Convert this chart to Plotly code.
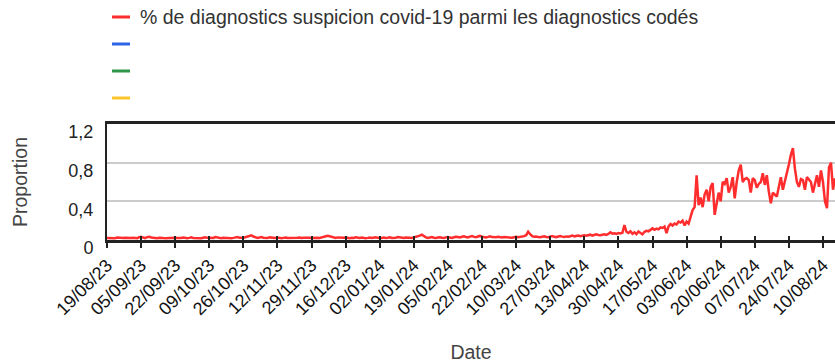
import pandas as pd
import plotly.graph_objects as go

# Daily share (%) of suspected covid-19 diagnoses among coded diagnoses
start_date = "2023-08-19"
end_date = "2024-08-16"
proportion = [
    0.020, 0.018, 0.022, 0.020, 0.019, 0.025, 0.021, 0.018, 0.020, 0.023,
    0.020, 0.017, 0.021, 0.024, 0.020, 0.019, 0.028, 0.032, 0.025, 0.020,
    0.030, 0.034, 0.026, 0.022, 0.020, 0.018, 0.023, 0.025, 0.020, 0.019,
    0.021, 0.018, 0.020, 0.024, 0.022, 0.020, 0.019, 0.021, 0.026, 0.020,
    0.018, 0.022, 0.027, 0.021, 0.019, 0.023, 0.020, 0.018, 0.024, 0.028,
    0.022, 0.020, 0.019, 0.021, 0.030, 0.025, 0.020, 0.018, 0.022, 0.020,
    0.024, 0.021, 0.019, 0.022, 0.026, 0.030, 0.024, 0.020, 0.023, 0.028,
    0.033, 0.040, 0.048, 0.036, 0.027, 0.022, 0.025, 0.030, 0.024, 0.021,
    0.020, 0.027, 0.023, 0.019, 0.021, 0.026, 0.020, 0.018, 0.022, 0.025,
    0.020, 0.019, 0.024, 0.021, 0.018, 0.023, 0.026, 0.020, 0.022, 0.025,
    0.028, 0.024, 0.020, 0.022, 0.027, 0.023, 0.021, 0.026, 0.031, 0.036,
    0.043, 0.038, 0.030, 0.025, 0.022, 0.027, 0.024, 0.020, 0.023, 0.026,
    0.021, 0.019, 0.024, 0.022, 0.028, 0.023, 0.020, 0.025, 0.021, 0.019,
    0.022, 0.026, 0.020, 0.024, 0.028, 0.022, 0.019, 0.021, 0.025, 0.020,
    0.023, 0.027, 0.021, 0.019, 0.024, 0.030, 0.026, 0.022, 0.020, 0.025,
    0.028, 0.024, 0.021, 0.026, 0.032, 0.040, 0.045, 0.055, 0.038, 0.027,
    0.022, 0.025, 0.030, 0.024, 0.021, 0.026, 0.029, 0.023, 0.021, 0.027,
    0.031, 0.025, 0.022, 0.028, 0.034, 0.030, 0.026, 0.033, 0.038, 0.030,
    0.026, 0.035, 0.040, 0.032, 0.028, 0.036, 0.042, 0.034, 0.030, 0.027,
    0.032, 0.038, 0.030, 0.026, 0.029, 0.033, 0.027, 0.025, 0.030, 0.028,
    0.031, 0.027, 0.024, 0.029, 0.033, 0.028, 0.030, 0.035, 0.040, 0.050,
    0.085, 0.060, 0.040, 0.033, 0.036, 0.030, 0.028, 0.034, 0.038, 0.031,
    0.029, 0.035, 0.040, 0.033, 0.030, 0.036, 0.042, 0.035, 0.031, 0.037,
    0.034, 0.039, 0.045, 0.038, 0.041, 0.047, 0.040, 0.043, 0.050, 0.044,
    0.048, 0.055, 0.046, 0.050, 0.058, 0.052, 0.049, 0.055, 0.060, 0.053,
    0.062, 0.080, 0.066, 0.070, 0.064, 0.072, 0.068, 0.075, 0.155, 0.085,
    0.072, 0.090, 0.065, 0.080, 0.060, 0.088, 0.070, 0.058, 0.085, 0.095,
    0.090, 0.110, 0.120, 0.105, 0.118, 0.110, 0.130, 0.125, 0.140, 0.070,
    0.140, 0.165, 0.150, 0.170, 0.160, 0.190,
    0.180, 0.200, 0.150, 0.190, 0.170, 0.240, 0.310, 0.340, 0.670, 0.360,
    0.440, 0.340, 0.470, 0.520, 0.400, 0.550, 0.590, 0.260, 0.400, 0.490,
    0.400, 0.600, 0.580, 0.640, 0.490, 0.550, 0.650, 0.430, 0.600, 0.720,
    0.780, 0.600, 0.630, 0.640, 0.620, 0.490, 0.640, 0.620, 0.540, 0.580,
    0.600, 0.690, 0.570, 0.670, 0.500, 0.380, 0.490, 0.470, 0.450, 0.550,
    0.650, 0.520, 0.600, 0.670, 0.780, 0.880, 0.950, 0.740, 0.600, 0.550,
    0.630, 0.620, 0.520, 0.650, 0.630, 0.600, 0.490, 0.600, 0.670, 0.550,
    0.720, 0.600, 0.400, 0.330, 0.750, 0.800, 0.520, 0.640,
]
dates = pd.date_range(start_date, periods=len(proportion), freq="D")

# Axis ticks
x_tick_dates = [
    "2023-08-19", "2023-09-05", "2023-09-22", "2023-10-09", "2023-10-26",
    "2023-11-12", "2023-11-29", "2023-12-16", "2024-01-02", "2024-01-19",
    "2024-02-05", "2024-02-22", "2024-03-10", "2024-03-27", "2024-04-13",
    "2024-04-30", "2024-05-17", "2024-06-03", "2024-06-20", "2024-07-07",
    "2024-07-24", "2024-08-10",
]
y_tick_vals = [0, 0.4, 0.8, 1.2]
y_tick_text = ["0", "0,4", "0,8", "1,2"]

# Legend entries (only the first series carries data)
legend_labels = ["% de diagnostics suspicion covid-19 parmi les diagnostics codés", "", "", ""]
legend_colors = ["#ff2d2d", "#2f64e6", "#2e9648", "#fcc42c"]

W, H = 835, 363
ML, MR, MT, MB = 107, 0, 124, 123
FONT = "Liberation Sans, Arial, sans-serif"


def px_to_paper(px, py):
    return (px - ML) / (W - ML - MR), (H - MB - py) / (H - MT - MB)


fig = go.Figure()
fig.add_trace(go.Scatter(
    x=dates, y=proportion, mode="lines",
    line=dict(color=legend_colors[0], width=2.5),
    showlegend=False, hoverinfo="x+y",
))
# empty trace carrying the overlaid tick axis (ticks crossing the baseline)
fig.add_trace(go.Scatter(x=[], y=[], xaxis="x2", showlegend=False))

# legend drawn at the top-left
for i, (label, color) in enumerate(zip(legend_labels, legend_colors)):
    yc = 17 + 27 * i
    x0, y0 = px_to_paper(112, yc)
    x1, _ = px_to_paper(130, yc)
    fig.add_shape(type="line", xref="paper", yref="paper", x0=x0, x1=x1, y0=y0, y1=y0,
                  line=dict(color=color, width=3))
    if label:
        tx, ty = px_to_paper(138, yc)
        fig.add_annotation(xref="paper", yref="paper", x=tx, y=ty, text=label,
                           showarrow=False, xanchor="left", yanchor="middle",
                           font=dict(family=FONT, size=19.5, color="#333333"))

fig.update_layout(
    width=W, height=H,
    margin=dict(l=ML, r=MR, t=MT, b=MB, pad=0),
    paper_bgcolor="white", plot_bgcolor="white",
    font=dict(family=FONT, color="#222222"),
    showlegend=False,
    xaxis=dict(
        type="date", range=[start_date, end_date],
        tickvals=x_tick_dates, tickformat="%d/%m/%y", tickangle=-45,
        tickfont=dict(size=18, color="#111111"),
        ticks="outside", ticklen=5, tickwidth=1.5, tickcolor="#222222",
        showgrid=False, zeroline=False,
        showline=True, linecolor="#222222", linewidth=2.5, mirror=True,
        title=dict(text="Date", font=dict(size=19.5, color="#444444"), standoff=30),
    ),
    xaxis2=dict(
        type="date", overlaying="x", matches="x", anchor="y", side="bottom",
        tickvals=x_tick_dates, ticks="inside", ticklen=4, tickwidth=1.5,
        tickcolor="#222222", showticklabels=False, showgrid=False,
        zeroline=False, showline=False,
    ),
    yaxis=dict(
        range=[0, 1.2], tickvals=y_tick_vals, ticktext=y_tick_text,
        tickfont=dict(size=18, color="#222222"), ticks="",
        ticklabelshift=8, ticklabelstandoff=8,
        showgrid=True, gridcolor="#cccccc", gridwidth=2,
        zeroline=False, showline=True, linecolor="#222222", linewidth=2,
        title=dict(text="Proportion", font=dict(size=19.5, color="#444444"), standoff=36),
    ),
)

fig.write_html("out.html")
